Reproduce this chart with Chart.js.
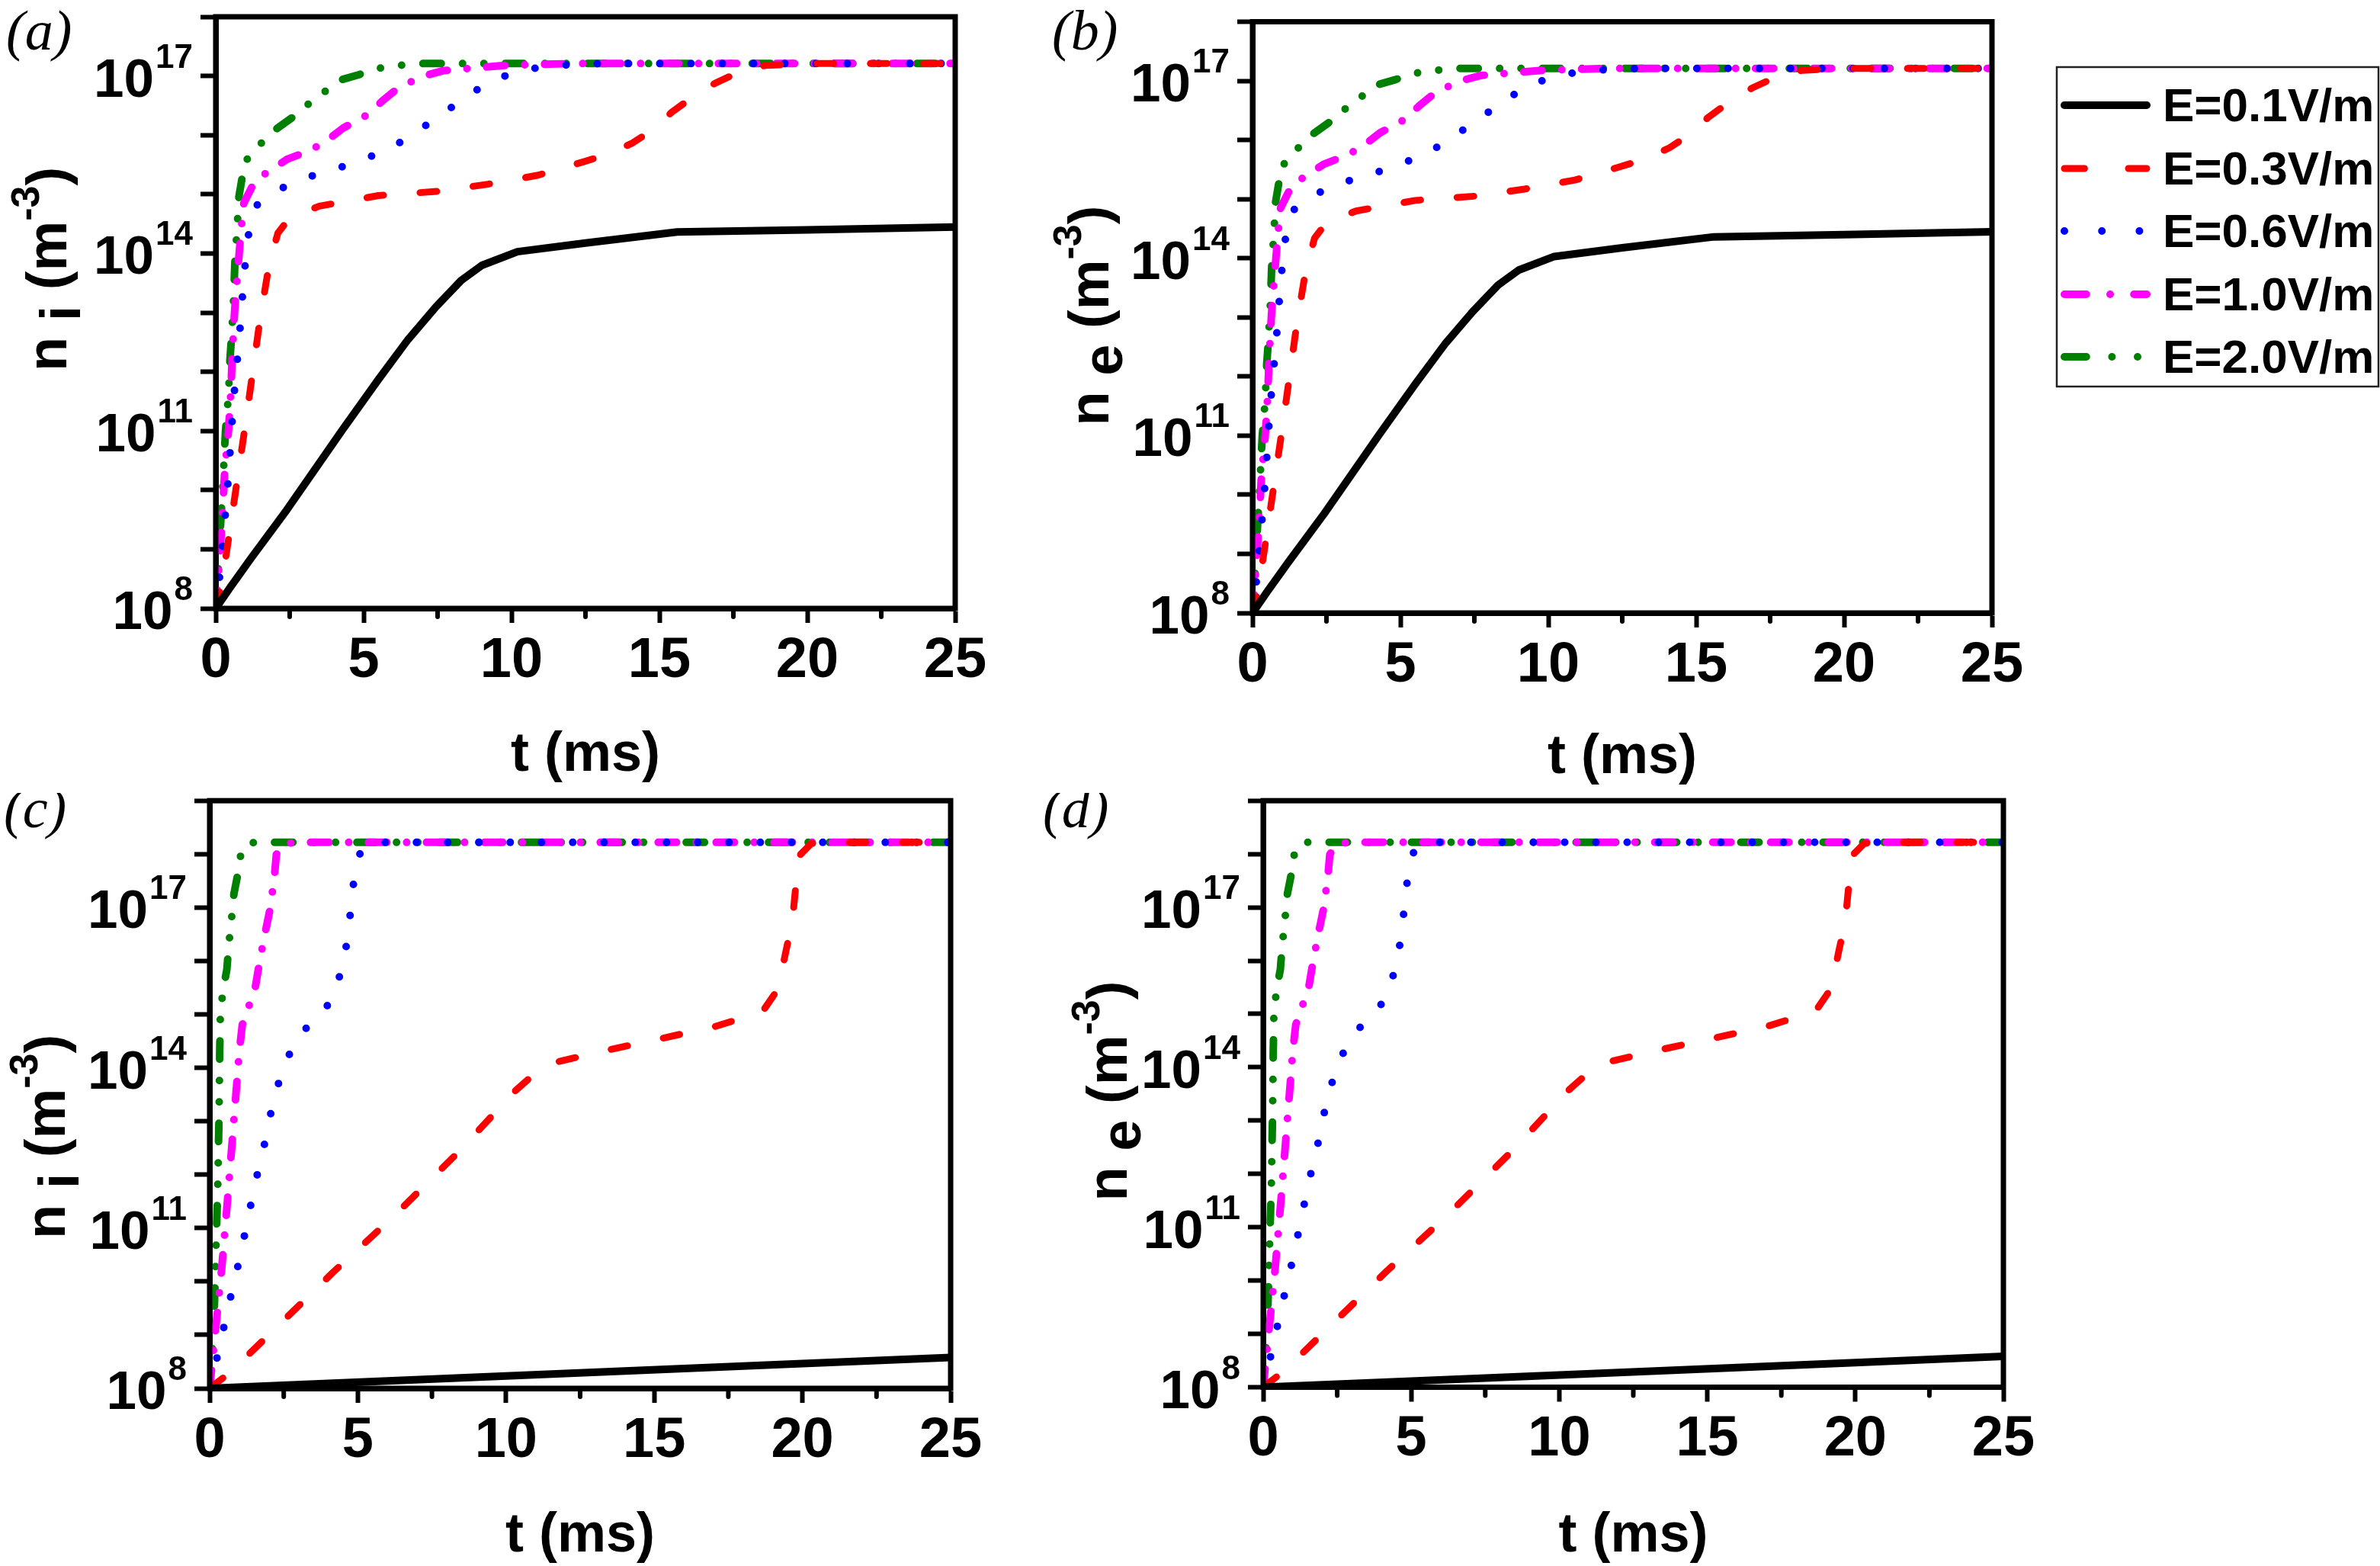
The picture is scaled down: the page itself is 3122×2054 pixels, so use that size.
<!DOCTYPE html>
<html><head><meta charset="utf-8">
<script src="https://cdn.jsdelivr.net/npm/chart.js@4.4.0/dist/chart.umd.min.js"></script>
<style>
html,body{margin:0;padding:0;background:#fff;width:3122px;height:2054px;overflow:hidden;}
canvas{position:absolute;}
</style></head><body>
<canvas id="pa" style="left:0px;top:0px" width="1320" height="1040"></canvas>
<canvas id="pb" style="left:1320px;top:0px" width="1802" height="1040"></canvas>
<canvas id="pc" style="left:0px;top:1040px" width="1320" height="1014"></canvas>
<canvas id="pd" style="left:1320px;top:1040px" width="1802" height="1014"></canvas>
<script>
// ---------------- DATA ----------------
const fieldLabels = ['E=0.1V/m', 'E=0.3V/m', 'E=0.6V/m', 'E=1.0V/m', 'E=2.0V/m'];
const yTickLabels = ['10^8', '10^11', '10^14', '10^17'];
const yTickValues = [1e8, 1e11, 1e14, 1e17];
const xMinorTicks = [2.5, 7.5, 12.5, 17.5, 22.5];

// top row: (a) n_i and (b) n_e (the two panels coincide)
const tTopE01 = [0, 0.5, 1.2, 2.4, 4.3, 5.5, 6.5, 7.45, 8.3, 9.0, 10.2, 12.5, 15.6, 20, 25];
const nTopE01 = [1e8, 2.3e8, 7.1e8, 4.6e9, 1.07e11, 7.4e11, 3.5e12, 1.26e13, 3.5e13, 6.3e13, 1.07e14, 1.5e14, 2.3e14, 2.5e14, 2.8e14];
const tTopE03 = [0, 0.2, 0.5, 1.0, 1.5, 1.8, 2.1, 2.5, 3.5, 5.5, 7.5, 9.2, 10.9, 12.4, 13.3, 14.1, 14.8, 15.4, 16.2, 16.9, 17.8, 18.6, 20, 25];
const nTopE03 = [1e8, 2.5e8, 2.5e9, 1.26e11, 7.9e12, 6.3e13, 2.2e14, 4.0e14, 6.3e14, 9.5e14, 1.12e15, 1.48e15, 2.1e15, 3.5e15, 4.8e15, 7.4e15, 1.26e16, 2.4e16, 4.7e16, 7.6e16, 1.23e17, 1.51e17, 1.62e17, 1.62e17];
const tTopE06 = [0, 0.17, 0.41, 0.6, 0.73, 0.85, 0.95, 1.1, 1.4, 2.3, 3.32, 4.35, 5.47, 6.44, 7.32, 8.25, 9.17, 10.24, 11.5, 13, 25];
const nTopE06 = [1e8, 5.0e8, 1.26e10, 3.2e11, 1.6e12, 7.9e12, 4.0e13, 2.0e14, 6.6e14, 1.32e15, 2.1e15, 3.0e15, 4.8e15, 8.5e15, 1.74e16, 3.7e16, 7.6e16, 1.23e17, 1.51e17, 1.62e17, 1.62e17];
const tTopE10 = [0, 0.14, 0.23, 0.3, 0.43, 0.51, 0.56, 0.64, 0.75, 0.86, 0.95, 1.34, 1.88, 2.41, 3.23, 3.79, 4.31, 5.13, 5.64, 6.16, 6.98, 7.7, 9.8, 12, 25];
const nTopE10 = [1e8, 8.3e8, 4.0e9, 2.0e10, 1.0e11, 4.5e11, 2.0e12, 1.1e13, 5.6e13, 2.6e14, 7.1e14, 1.74e15, 2.6e15, 3.9e15, 5.6e15, 8.3e15, 1.32e16, 2.2e16, 3.8e16, 6.2e16, 9.8e16, 1.23e17, 1.51e17, 1.62e17, 1.62e17];
const tTopE20 = [0, 0.05, 0.1, 0.15, 0.22, 0.28, 0.33, 0.43, 0.48, 0.54, 0.6, 0.65, 0.71, 0.78, 0.98, 1.48, 1.95, 2.6, 3.08, 3.64, 4.2, 4.84, 5.38, 6.2, 7, 25];
const nTopE20 = [1e8, 2.0e8, 6.3e8, 2.0e9, 7.9e9, 3.2e10, 1.0e11, 4.0e11, 1.6e12, 4.3e12, 1.6e13, 7.6e13, 2.1e14, 8.9e14, 3.5e15, 6.8e15, 1.17e16, 2.0e16, 3.2e16, 5.2e16, 8.5e16, 1.05e17, 1.32e17, 1.51e17, 1.62e17, 1.62e17];

// bottom row: (c) n_i and (d) n_e (the two panels coincide)
const tBotE01 = [0, 10, 20, 25];
const nBotE01 = [1.0e8, 1.7e8, 2.9e8, 3.8e8];
const tBotE03 = [0, 0.7, 2.07, 4.17, 6.18, 8.38, 10.31, 11.06, 11.8, 13.52, 15.2, 17.04, 18.65, 19.18, 19.44, 19.66, 19.78, 19.93, 20.3, 21, 25];
const nBotE03 = [1.0e8, 2.0e8, 1.1e9, 1.5e10, 1.6e11, 2.6e12, 3.7e13, 8.7e13, 1.32e14, 2.2e14, 3.5e14, 5.9e14, 1.12e15, 3.0e15, 1.5e16, 5.5e16, 2.7e17, 9.8e17, 1.58e18, 1.66e18, 1.66e18];
const tBotE06 = [0, 0.32, 0.62, 0.94, 1.24, 1.52, 1.84, 2.12, 2.5, 3.08, 3.93, 4.51, 4.7, 4.85, 5.11, 5.5, 25];
const nBotE06 = [1e8, 5.5e8, 3.2e9, 1.8e10, 1.07e11, 6.3e11, 3.5e12, 2.0e13, 1.15e14, 4.4e14, 1.29e15, 7.6e15, 4.5e16, 2.7e17, 1.29e18, 1.66e18, 1.66e18];
const tBotE10 = [0, 0.2, 0.4, 0.6, 0.8, 1.0, 1.1, 1.26, 1.54, 1.69, 1.86, 2.03, 2.18, 2.25, 2.5, 3, 25];
const nBotE10 = [1e8, 1.26e9, 1.6e10, 3.2e11, 7.9e12, 2.0e14, 6.3e14, 1.12e15, 3.2e15, 1.0e16, 3.1e16, 8.9e16, 3.5e17, 9.8e17, 1.58e18, 1.66e18, 1.66e18];
const tBotE20 = [0, 0.1, 0.15, 0.19, 0.22, 0.25, 0.28, 0.3, 0.32, 0.34, 0.36, 0.44, 0.58, 0.65, 0.74, 0.82, 0.98, 1.08, 1.5, 25];
const nBotE20 = [1e8, 6.3e8, 2.2e9, 1.26e10, 5.6e10, 2.0e11, 7.9e11, 4.0e12, 1.6e13, 2.0e14, 8.9e14, 2.6e15, 6.9e15, 2.1e16, 6.3e16, 1.82e17, 5.1e17, 1.32e18, 1.66e18, 1.66e18];

// ---------------- STYLE / LAYOUT ----------------
const FONT = '"Liberation Sans", Arial, Helvetica, sans-serif';
const SERIF = '"Liberation Serif", "Times New Roman", serif';
const lineStyles = [
  {color: '#000000', dash: [], width: 10},
  {color: '#FF0000', dash: [22, 48], width: 9},
  {color: '#0000FF', dash: [0, 41], width: 10},
  {color: '#FF00FF', dash: [24, 26, 0, 26], width: 10},
  {color: '#008000', dash: [24, 28, 0, 28, 0, 28], width: 10}
];
const panels = {
  pa: {cx: 0, cy: 0, w: 1320, h: 1040, left: 283, top: 22, right: 1253, bottom: 798, ymax: 1e18,
       tag: '(a)', tagX: 8, tagY: 65, sub: 'i', ytX: 87, ytY: 353, xtY: 1011, legend: false},
  pb: {cx: 1320, cy: 0, w: 1802, h: 1040, left: 1643, top: 28.5, right: 2613, bottom: 804, ymax: 1e18,
       tag: '(b)', tagX: 1380, tagY: 65, sub: 'e', ytX: 1454, ytY: 414, xtY: 1014, legend: true},
  pc: {cx: 0, cy: 1040, w: 1320, h: 1014, left: 275, top: 1047, right: 1247, bottom: 1821, ymax: 1e19,
       tag: '(c)', tagX: 5, tagY: 1085, sub: 'i', ytX: 85, ytY: 1491, xtY: 2035, legend: false},
  pd: {cx: 1320, cy: 1040, w: 1802, h: 1014, left: 1657, top: 1044.5, right: 2628, bottom: 1819.5, ymax: 1e19,
       tag: '(d)', tagX: 1368, tagY: 1085, sub: 'e', ytX: 1478, ytY: 1431, xtY: 2035, legend: false}
};
const legendBox = {x: 2698, y: 88, w: 422, h: 419, rows: [138, 221, 303, 386, 468], lx0: 2708, lx1: 2816, tx: 2837};

function series(ts, ns) { return ts.map((t, i) => ({x: t, y: ns[i]})); }
const topSeries = [series(tTopE01, nTopE01), series(tTopE03, nTopE03), series(tTopE06, nTopE06), series(tTopE10, nTopE10), series(tTopE20, nTopE20)];
const botSeries = [series(tBotE01, nBotE01), series(tBotE03, nBotE03), series(tBotE06, nBotE06), series(tBotE10, nBotE10), series(tBotE20, nBotE20)];

function makeDatasets(list) {
  return list.map((d, i) => ({
    label: fieldLabels[i], data: d,
    borderColor: lineStyles[i].color, backgroundColor: lineStyles[i].color,
    borderWidth: lineStyles[i].width, borderDash: lineStyles[i].dash,
    borderCapStyle: 'round', borderJoinStyle: 'round',
    pointRadius: 0, fill: false, tension: 0
  }));
}

function drawParts(ctx, parts, x, y) {
  let cx = x;
  parts.forEach(p => {
    ctx.font = `bold ${p.size}px ${FONT}`;
    ctx.fillText(p.t, cx, y + (p.dy || 0));
    cx += ctx.measureText(p.t).width;
  });
}
function partsWidth(ctx, parts) {
  let w = 0;
  parts.forEach(p => { ctx.font = `bold ${p.size}px ${FONT}`; w += ctx.measureText(p.t).width; });
  return w;
}

const deco = {
  id: 'deco',
  afterDraw(chart) {
    const P = panels[chart.canvas.id];
    const ctx = chart.ctx, a = chart.chartArea, xs = chart.scales.x, ys = chart.scales.y;
    ctx.save();
    // frame
    ctx.strokeStyle = '#000'; ctx.lineWidth = 7; ctx.lineJoin = 'miter'; ctx.setLineDash([]);
    ctx.strokeRect(a.left, a.top, a.right - a.left, a.bottom - a.top);
    // minor x ticks
    ctx.lineWidth = 6; ctx.lineCap = 'round';
    xMinorTicks.forEach(v => {
      const px = xs.getPixelForValue(v);
      ctx.beginPath(); ctx.moveTo(px, a.bottom); ctx.lineTo(px, a.bottom + 11); ctx.stroke();
    });
    // y tick labels 10^n
    ctx.fillStyle = '#000'; ctx.textAlign = 'left'; ctx.textBaseline = 'alphabetic';
    yTickLabels.forEach((lab, i) => {
      const [base, ex] = lab.split('^');
      const py = ys.getPixelForValue(yTickValues[i]);
      ctx.font = `bold 44px ${FONT}`;
      const we = ctx.measureText(ex).width;
      const xr = a.left - 30;
      ctx.fillText(ex, xr - we, py - 11);
      ctx.font = `bold 71px ${FONT}`;
      const wb = ctx.measureText(base).width;
      ctx.fillText(base, xr - we - 2 - wb, py + 27);
    });
    // panel tag
    ctx.font = `italic 74px ${SERIF}`;
    ctx.fillText(P.tag, P.tagX - P.cx, P.tagY - P.cy);
    // x title
    const xt = [{t: 't (ms)', size: 72}];
    const xw = partsWidth(ctx, xt);
    drawParts(ctx, xt, (a.left + a.right) / 2 - xw / 2, P.xtY - P.cy);
    // y title (rotated)
    const yt = [{t: 'n ', size: 74}, {t: P.sub, size: 74, dy: 18}, {t: ' (m', size: 74}, {t: '-3', size: 52, dy: -36}, {t: ')', size: 74}];
    const yw = partsWidth(ctx, yt);
    ctx.save();
    ctx.translate(P.ytX - P.cx, P.ytY - P.cy);
    ctx.rotate(-Math.PI / 2);
    drawParts(ctx, yt, -yw / 2, 0);
    ctx.restore();
    // legend
    if (P.legend) {
      const L = legendBox;
      ctx.lineWidth = 2.5; ctx.strokeStyle = '#222'; ctx.setLineDash([]);
      ctx.strokeRect(L.x - P.cx, L.y - P.cy, L.w, L.h);
      chart.data.datasets.forEach((ds, i) => {
        const cy = L.rows[i] - P.cy;
        ctx.strokeStyle = ds.borderColor; ctx.lineWidth = ds.borderWidth; ctx.lineCap = 'round';
        ctx.setLineDash(ds.borderDash.map(v => v * 1.2));
        ctx.beginPath(); ctx.moveTo(L.lx0 - P.cx, cy); ctx.lineTo(L.lx1 - P.cx, cy); ctx.stroke();
        ctx.setLineDash([]);
        ctx.fillStyle = '#000'; ctx.font = `bold 62px ${FONT}`;
        ctx.fillText(ds.label, L.tx - P.cx, cy + 21);
      });
    }
    ctx.restore();
  }
};

function buildChart(id, list) {
  const P = panels[id];
  const decades = [];
  for (let v = 1e8; v <= P.ymax * 1.001; v *= 10) decades.push(v);
  const gridOpts = (len) => ({display: true, drawOnChartArea: false, drawTicks: true, tickLength: len, tickWidth: 6, tickColor: '#000', color: '#000'});
  return new Chart(document.getElementById(id), {
    type: 'line',
    data: {datasets: makeDatasets(list)},
    options: {
      responsive: false, animation: false, devicePixelRatio: 1,
      layout: {padding: {left: 0, top: P.top - P.cy, right: P.cx + P.w - P.right, bottom: 0}},
      plugins: {legend: {display: false}, tooltip: {enabled: false}, title: {display: false}},
      scales: {
        x: {
          type: 'linear', min: 0, max: 25,
          ticks: {stepSize: 5, autoSkip: false, maxRotation: 0, color: '#000', padding: 6,
                  font: {family: FONT, weight: 'bold', size: 74}},
          grid: gridOpts(19),
          border: {display: true, width: 7, color: '#000'},
          afterFit: s => { s.height = P.cy + P.h - P.bottom; }
        },
        y: {
          type: 'logarithmic', min: 1e8, max: P.ymax,
          afterBuildTicks: s => { s.ticks = decades.map(v => ({value: v})); },
          ticks: {callback: () => '', autoSkip: false},
          grid: gridOpts(20),
          border: {display: true, width: 7, color: '#000'},
          afterFit: s => { s.width = P.left - P.cx; }
        }
      }
    },
    plugins: [deco]
  });
}

buildChart('pa', topSeries);
buildChart('pb', topSeries);
buildChart('pc', botSeries);
buildChart('pd', botSeries);
</script>
</body></html>
